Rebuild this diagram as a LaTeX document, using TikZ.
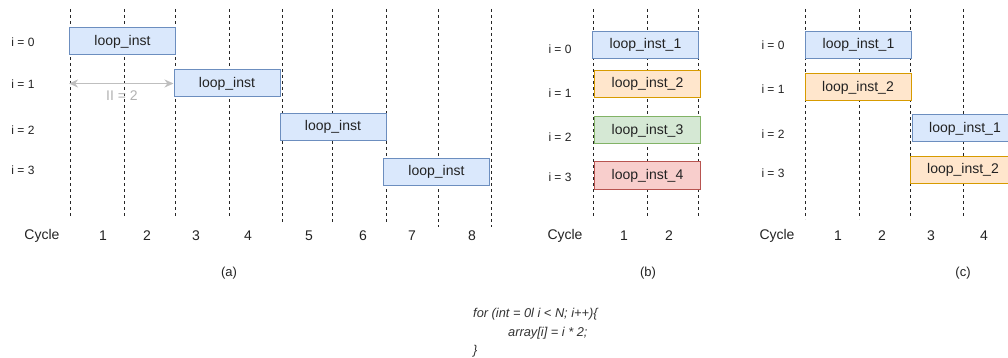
\documentclass[tikz,border=0pt]{standalone}
\usepackage{fontspec}
\setmainfont{Liberation Sans}
\usepackage{tikz}
\usetikzlibrary{arrows.meta}
\definecolor{bluefill}{HTML}{DAE8FC}
\definecolor{bluedraw}{HTML}{6C8EBF}
\definecolor{orgfill}{HTML}{FFE6CC}
\definecolor{orgdraw}{HTML}{D79B00}
\definecolor{grnfill}{HTML}{D5E8D4}
\definecolor{grndraw}{HTML}{82B366}
\definecolor{redfill}{HTML}{F8CECC}
\definecolor{reddraw}{HTML}{B85450}
\definecolor{txt}{HTML}{222222}
\tikzset{
  inst/.style  = {draw, line width=1pt, inner sep=0pt, minimum width=106pt,
                  minimum height=27pt, text=txt, font=\fontsize{14}{16}\selectfont},
  blu/.style   = {inst, fill=bluefill, draw=bluedraw},
  org/.style   = {inst, fill=orgfill, draw=orgdraw},
  grn/.style   = {inst, fill=grnfill, draw=grndraw},
  rd/.style    = {inst, fill=redfill, draw=reddraw},
  tick/.style  = {draw=black!85, line width=1pt, dash pattern=on 3pt off 3pt},
  ilab/.style  = {inner sep=0pt, text=txt, font=\fontsize{12}{14}\selectfont},
  cyc/.style   = {inner sep=0pt, text=txt, font=\fontsize{14}{16}\selectfont},
  subcap/.style= {inner sep=0pt, text=txt, font=\fontsize{13}{15}\selectfont},
  gap/.style   = {{Stealth[length=9pt,width=8pt]}-{Stealth[length=9pt,width=8pt]},
                  line width=1.6pt, draw=black!25},
  code/.style  = {inner sep=0pt, anchor=base west, text=black!80,
                  font=\fontsize{12.8}{15}\selectfont\itshape},
}
\begin{document}
\begin{tikzpicture}[x=1pt, y=-1pt]
\clip (0,0) rectangle (1008,358);
% cycle boundaries
\foreach \x/\b in {70/218, 124/218, 175/218, 229/217, 282/222, 332/222, 386/222, 438/227, 491/227,
                   593/218, 647/218, 698/218, 805/219, 859/219, 910/219, 963/217}
  \draw[tick] (\x,9) -- (\x,\b);

% (a) no unrolling
\node[blu] (a0) at (122.5,41.5) {loop\_inst};
\node[blu] (a1) at (227,83.5)   {loop\_inst};
\node[blu] (a2) at (333,127)    {loop\_inst};
\node[blu] (a3) at (436.5,172)  {loop\_inst};
\draw[gap] (a0.south west |- a1.west) -- (a1.west);
\node[cyc, text=black!30] (ii) at (122,96) {II = 2};
\foreach \n/\y in {0/42, 1/84, 2/130, 3/170}
  \node[ilab] (ia\n) at (23,\y) {i = \n};
\node[cyc] (cyca) at (42,236) {Cycle};
\foreach \n/\x in {1/103, 2/147, 3/196, 4/248, 5/309, 6/363, 7/412, 8/472}
  \node[cyc] (na\n) at (\x,236) {\n};
\node[subcap] (capa) at (229,273) {(a)};

% (b) full unrolling
\node[blu] (b1) at (645.5,45)   {loop\_inst\_1};
\node[org] (b2) at (647.5,84)   {loop\_inst\_2};
\node[grn] (b3) at (647.5,130.5){loop\_inst\_3};
\node[rd]  (b4) at (647.5,175.5){loop\_inst\_4};
\foreach \n/\y in {0/49, 1/93, 2/137, 3/177}
  \node[ilab] (ib\n) at (560,\y) {i = \n};
\node[cyc] (cycb) at (565,236) {Cycle};
\foreach \n/\x in {1/624, 2/669}
  \node[cyc] (nb\n) at (\x,236) {\n};
\node[subcap] (capb) at (648,273) {(b)};

% (c) partial unrolling
\node[blu] (c1) at (858.5,45)  {loop\_inst\_1};
\node[org] (c2) at (858,87.5)  {loop\_inst\_2};
\node[blu] (c3) at (965,128.5) {loop\_inst\_1};
\node[org] (c4) at (963,170)   {loop\_inst\_2};
\foreach \n/\y in {0/45, 1/89, 2/134, 3/173}
  \node[ilab] (ic\n) at (773,\y) {i = \n};
\node[cyc] (cycc) at (777,236) {Cycle};
\foreach \n/\x in {1/838, 2/882, 3/931, 4/984}
  \node[cyc] (nc\n) at (\x,236) {\n};
\node[subcap] (capc) at (963,273) {(c)};

% loop source
\node[code] (src1) at (473,317)   {for (int = 0l i < N; i++)\{};
\node[code] (src2) at (508,336)   {array[i] = i * 2;};
\node[code] (src3) at (473,354.5) {\}};
\end{tikzpicture}
\end{document}
